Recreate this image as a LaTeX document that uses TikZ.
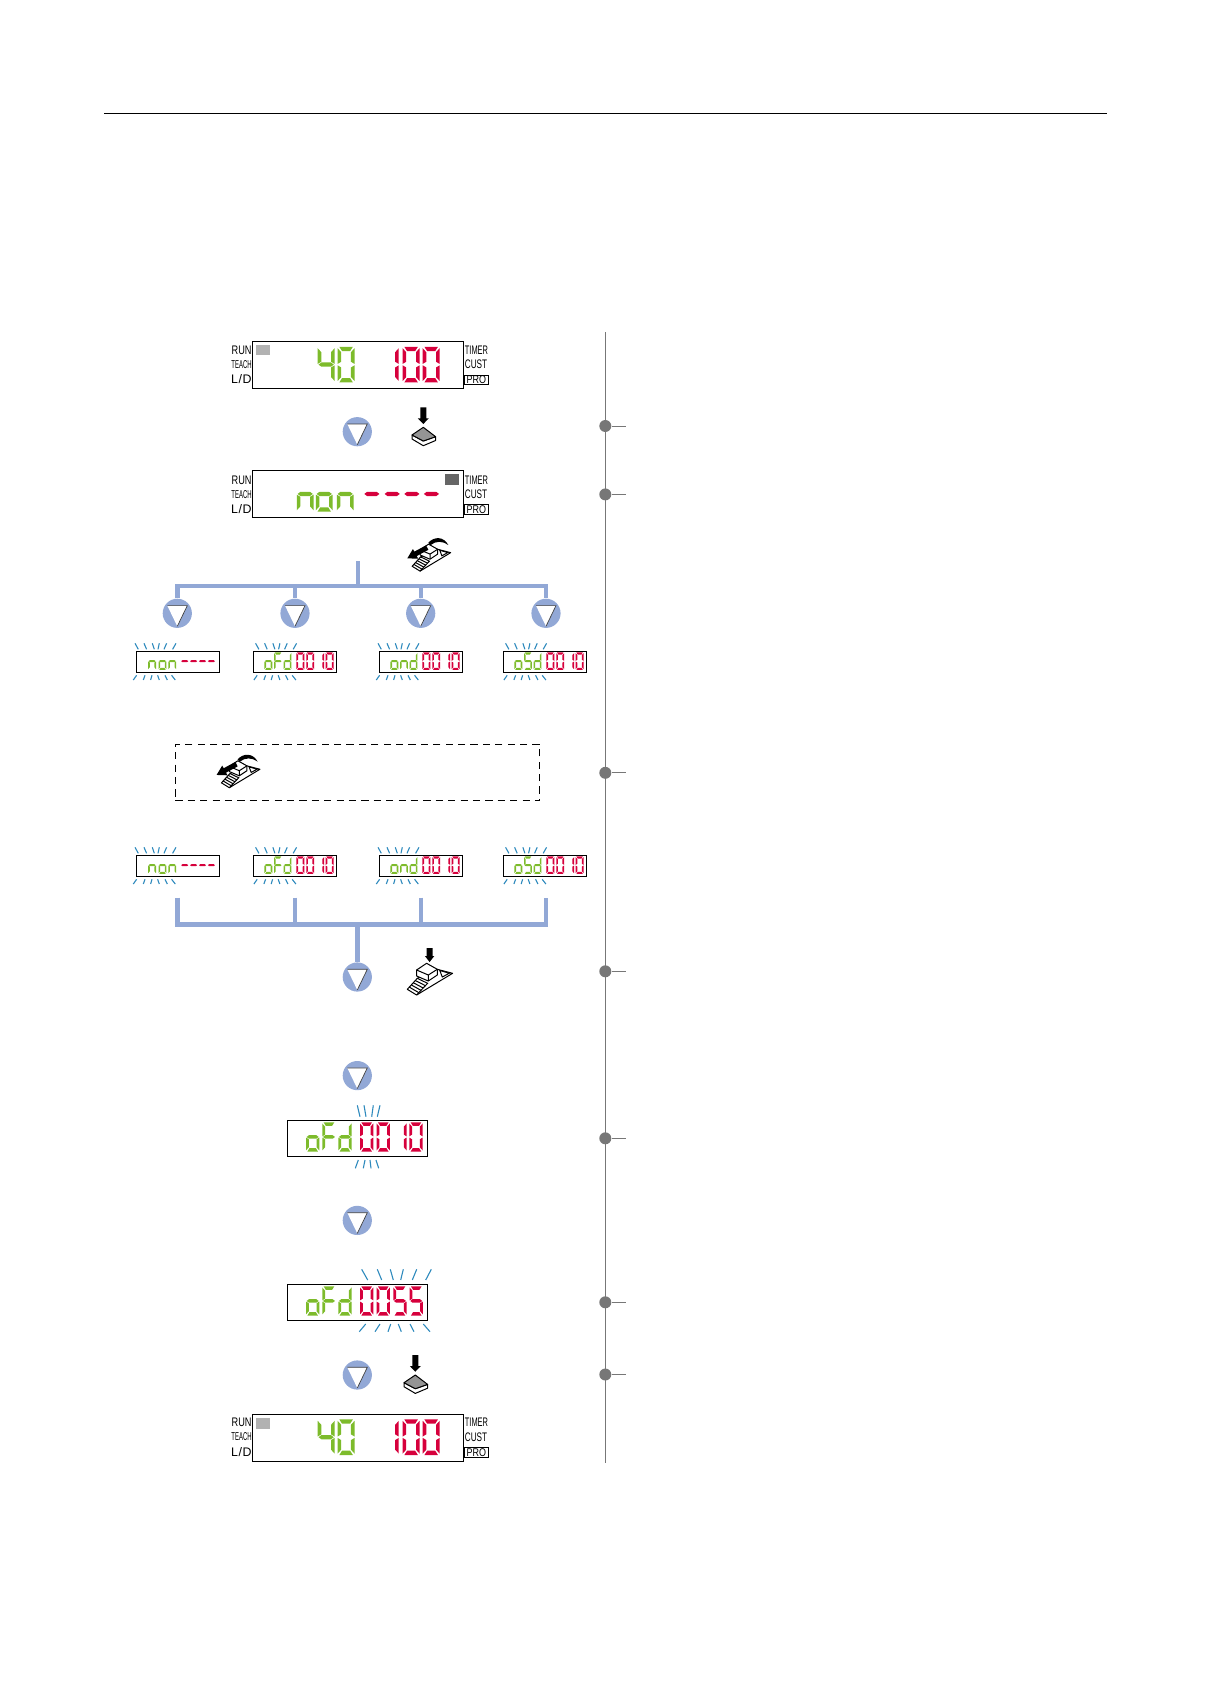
\documentclass[tikz,border=0pt]{standalone}
\usepackage{fontspec}
\setmainfont{Liberation Sans}
\usetikzlibrary{arrows.meta,calc,positioning}

\definecolor{ledgreen}{HTML}{7DBB2B}
\definecolor{ledred}{HTML}{D6003C}
\definecolor{flowblue}{HTML}{92A8D6}
\definecolor{rayblue}{HTML}{2E8ABD}
\definecolor{railgray}{HTML}{777777}

\tikzset{
  panelbox/.style={draw,line width=0.6pt,anchor=north west,inner sep=0pt,outer sep=0pt,minimum width=105.5pt,minimum height=23.4pt},
  readoutbig/.style={draw,line width=0.55pt,anchor=north west,inner sep=0pt,outer sep=0pt,minimum width=70pt,minimum height=18pt},
  readoutsmall/.style={draw,line width=0.5pt,anchor=north west,inner sep=0pt,outer sep=0pt,minimum width=41.5pt,minimum height=10.5pt},
  flowdot/.style={circle,fill=flowblue,inner sep=0pt,minimum size=14.6pt},
  bus/.style={flowblue,line width=2.2pt},
  ray/.style={rayblue,line width=0.55pt},
  railtick/.style={railgray,line width=0.5pt},
  raildot/.style={circle,fill=railgray,inner sep=0pt,minimum size=6pt},
  panellabel/.style={font=\fontsize{6.2}{6.5}\selectfont,inner sep=0pt},
  keypress/.pic={
    \fill (-3,-27.7) -- (3,-27.7) -- (3,-16.7) -- (5.5,-16.7) -- (0,-11) -- (-5.5,-16.7) -- (-3,-16.7) -- cycle;
    \draw[line width=0.5pt,fill=white,line join=round] (-11.3,0) -- (-11.3,4) -- (0,10.7) -- (12.3,5.5) -- (12.3,1.7) -- (0,6) -- cycle;
    \draw[line width=0.5pt,fill=black!42,line join=round] (-11.3,0) -- (0,-7.7) -- (12.3,1.7) -- (0,6) -- cycle;
  },
  levershape/.pic={
    \draw[line width=0.5pt,fill=white,line join=round] (-21,14.3) -- (-11,3.3) -- (9,-5.7) -- (24.3,-1.7) -- (-11.7,20) -- cycle;
    \foreach \rib in {0.2,0.4,0.6,0.8}
      \draw[line width=0.5pt] ($(-21,14.3)!\rib!(-11,3.3)$) -- ($(-11.7,20)!\rib!(-0.7,8.3)$);
    \draw[line width=0.5pt] (-11,3.3) -- (-0.7,8.3) -- (-11.7,20);
    \draw[line width=0.5pt,fill=white,line join=round] (-11.7,-5) -- (-1.7,-11.7) -- (9,-5.7) -- (9,0) -- (0,6) -- (-11.7,1) -- cycle;
    \draw[line width=0.5pt] (-11.7,-5) -- (0,0) -- (9,-5.7) (0,0) -- (0,6);
    \draw[line width=0.5pt] (11.5,-4.5) -- (21,-1.8) -- (14,2) -- cycle;
  },
  leverpress/.pic={
    \pic[transform shape] {levershape};
    \fill (-1.7,-27) -- (4.3,-27) -- (4.3,-19) -- (6,-19) -- (1.3,-13) -- (-3.4,-19) -- (-1.7,-19) -- cycle;
  },
  leverflick/.pic={
    \pic[transform shape] {levershape};
    \fill (-26.7,5) -- (-20.1,-6) -- (-18.4,-2.9) -- (-4.7,-10.3) -- (-1.9,-5.1) -- (-15.6,2.3) -- (-13.9,5.4) -- cycle;
    \fill (-2,-13.4) .. controls (5,-21) and (16,-21) .. (21.6,-10.7) .. controls (15,-15.5) and (7,-16) .. (0.5,-10.5) -- cycle;
  }
}

% Segments of one digit in a unit box
\newcommand{\sega}{(.10,0) -- (.90,0) -- (.74,.12) -- (.26,.12) -- cycle}
\newcommand{\segb}{(1,.04) -- (1,.48) -- (.79,.42) -- (.79,.15) -- cycle}
\newcommand{\segc}{(1,.52) -- (1,.96) -- (.79,.85) -- (.79,.58) -- cycle}
\newcommand{\segd}{(.10,1) -- (.90,1) -- (.74,.88) -- (.26,.88) -- cycle}
\newcommand{\sege}{(0,.52) -- (0,.96) -- (.21,.85) -- (.21,.58) -- cycle}
\newcommand{\segf}{(0,.04) -- (0,.48) -- (.21,.42) -- (.21,.15) -- cycle}
\newcommand{\segg}{(.05,.5) -- (.22,.44) -- (.78,.44) -- (.95,.5) -- (.78,.56) -- (.22,.56) -- cycle}

\newcommand{\glyphzero}{a,b,c,d,e,f}
\newcommand{\glyphone}{b,c}
\newcommand{\glyphfour}{b,c,f,g}
\newcommand{\glyphfive}{a,c,d,f,g}
\newcommand{\glyphdash}{g}
\newcommand{\lettero}{c,d,e,g}
\newcommand{\lettern}{c,e,g}
\newcommand{\letterF}{a,e,f,g}
\newcommand{\letterd}{b,c,d,e,g}

\newcommand{\segglyph}[4]{%
  \foreach \s in #4 {\fill[#3,shift={(#1,#2)},xscale=13.3,yscale=29.3] \csname seg\s\endcsname;}}

% Words and values inside a readout
\newcommand{\wordnon}{\segglyph{20}{2}{ledgreen}{\lettern}\segglyph{37.5}{2}{ledgreen}{\lettero}\segglyph{54}{2}{ledgreen}{\lettern}}
\newcommand{\wordofd}{\segglyph{18.7}{2}{ledgreen}{\lettero}\segglyph{35}{2}{ledgreen}{\letterF}\segglyph{51}{2}{ledgreen}{\letterd}}
\newcommand{\wordond}{\segglyph{18.7}{2}{ledgreen}{\lettero}\segglyph{35}{2}{ledgreen}{\lettern}\segglyph{51}{2}{ledgreen}{\letterd}}
\newcommand{\wordosd}{\segglyph{18.7}{2}{ledgreen}{\lettero}\segglyph{35}{2}{ledgreen}{\glyphfive}\segglyph{51}{2}{ledgreen}{\letterd}}
\newcommand{\showdash}{\segglyph{75}{2}{ledred}{\glyphdash}\segglyph{90}{2}{ledred}{\glyphdash}\segglyph{105}{2}{ledred}{\glyphdash}\segglyph{120}{2}{ledred}{\glyphdash}}
\newcommand{\showten}{\segglyph{72.7}{2}{ledred}{\glyphzero}\segglyph{89.3}{2}{ledred}{\glyphzero}\segglyph{106}{2}{ledred}{\glyphone}\segglyph{122}{2}{ledred}{\glyphzero}}
\newcommand{\showfiftyfive}{\segglyph{72.7}{2}{ledred}{\glyphzero}\segglyph{89.3}{2}{ledred}{\glyphzero}\segglyph{106}{2}{ledred}{\glyphfive}\segglyph{122.3}{2}{ledred}{\glyphfive}}
\newcommand{\showrun}{\segglyph{51.5}{4.2}{ledgreen}{\glyphfour}\segglyph{67.2}{4.2}{ledgreen}{\glyphzero}\segglyph{102}{4.2}{ledred}{\glyphone}\segglyph{118.4}{4.2}{ledred}{\glyphzero}\segglyph{134.2}{4.2}{ledred}{\glyphzero}}

\newcommand{\smallreadout}[5]{%
  \node[readoutsmall] (#1) at (#2,#3) {};
  \begin{scope}[shift={(#1.north west)},scale=0.593] #5 \end{scope}
  \begin{scope}[shift={(#1.north west)},xshift=#4]
    \foreach \xa/\xb in {-1.3/2,7.7/10.3,16/18,23/21.7,30.3/27.7,39.7/36.3}
      \draw[ray] (\xa,-8) -- (\xb,-2);
  \end{scope}
  \begin{scope}[shift={(#1.south west)},xshift=#4]
    \foreach \xa/\xb in {-3/0.3,7/8.7,14.3/15.7,23/21.3,31/28.7,39/35.3}
      \draw[ray] (\xa,7.7) -- (\xb,3);
  \end{scope}}

\newcommand{\panellabels}[2]{%
  \begin{scope}[shift={(#1.north west)}]
    \node[panellabel,anchor=east] (#1run) at (-0.3,8.3+#2) {\scalebox{.74}[1]{RUN}};
    \node[panellabel,anchor=east] (#1teach) at (-0.3,22.7+#2) {\scalebox{.48}[.92]{TEACH}};
    \node[panellabel,anchor=east] (#1ld) at (-0.3,37.7+#2) {\scalebox{1}[1]{L\kern.3pt/\kern.3ptD}};
  \end{scope}
  \begin{scope}[shift={(#1.north east)}]
    \node[panellabel,anchor=west] (#1timer) at (1.2,8.3+#2) {\scalebox{.6}[1]{TIMER}};
    \node[panellabel,anchor=west] (#1cust) at (1.2,22.7+#2) {\scalebox{.66}[1]{CUST}};
    \node[draw,line width=0.4pt,inner sep=0pt,minimum width=12.3pt,minimum height=4.7pt,font=\fontsize{5.6}{5.8}\selectfont] (#1pro) at (13,38+#2) {\scalebox{.8}[1]{PRO}};
  \end{scope}}

\newcommand{\flowmark}[3]{%
  \node[flowdot] (#1) at (#2,#3) {};
  \begin{scope}[shift={(#1)}]
    \fill[white] (-10,-7.7) -- (10,-7.7) -- (0,13) -- cycle;
    \draw[black!75,line width=0.35pt] (-10,-7.7) -- (10,-7.7) -- (0,13);
  \end{scope}}

\begin{document}
\begin{tikzpicture}[x=0.5pt,y=-0.5pt]
\useasboundingbox (0,0) rectangle (1230,1682);

% Header rule
\coordinate (rulea) at (104,113.7);
\coordinate (ruleb) at (1107,113.7);
\draw[line width=0.55pt] (rulea) -- (ruleb);

% Rail on the right
\coordinate (railtop) at (605.3,332);
\coordinate (railend) at (605.3,1462.7);
\draw[railgray,line width=0.5pt] (railtop) -- (railend);
\foreach \n/\yy in {a/426,b/494.4,c/772.8,d/971.3,e/1138.3,f/1302.3,g/1374.5} {
  \node[raildot] (dot\n) at (605.3,\yy) {};
  \coordinate (tick\n) at (625.7,\yy);
  \draw[railtick] (dot\n) -- (tick\n);
}

% Top panel
\node[panelbox] (panelrun) at (252.3,341.7) {};
\fill[black!30] (256,345.3) rectangle (270,354.7);
\begin{scope}[shift={(panelrun.north west)},xscale=1.27,yscale=1.215] \showrun \end{scope}
\panellabels{panelrun}{0}

\flowmark{markpress}{357.3}{431.7}
\pic at (423.3,435) {keypress};

% Second panel
\node[panelbox] (panelset) at (252.3,470.3) {};
\fill[black!60] (445,474.3) rectangle (459,485);
\begin{scope}[shift={(panelset.north west)},xscale=1.27,yscale=1.215]
  \segglyph{35}{4.8}{ledgreen}{\lettern}\segglyph{50}{4.8}{ledgreen}{\lettero}\segglyph{66.5}{4.8}{ledgreen}{\lettern}
  \segglyph{87.5}{4.8}{ledred}{\glyphdash}\segglyph{103.5}{4.8}{ledred}{\glyphdash}\segglyph{119}{4.8}{ledred}{\glyphdash}\segglyph{134.4}{4.8}{ledred}{\glyphdash}
\end{scope}
\panellabels{panelset}{1.2}

\pic[scale=.85] at (430,554.1) {leverflick};

% Upper branch
\flowmark{marknon}{177.3}{613.3}
\flowmark{markofd}{295}{613.3}
\flowmark{markond}{420.7}{613.3}
\flowmark{markosd}{546}{613.3}
\coordinate (busin) at (358,561);
\coordinate (busjoin) at (358,586);
\draw[bus] (busin) -- (busjoin);
\draw[bus] (marknon.north) |- (busjoin) -| (markosd.north);
\draw[bus] (markofd.north) -- (markofd.north |- busjoin);
\draw[bus] (markond.north) -- (markond.north |- busjoin);

% Upper readouts
\smallreadout{readnon}{136.3}{651.3}{0pt}{\wordnon\showdash}
\smallreadout{readofd}{253.3}{651.3}{1.8pt}{\wordofd\showten}
\smallreadout{readond}{379.3}{651.3}{0pt}{\wordond\showten}
\smallreadout{readosd}{503.3}{651.3}{1.8pt}{\wordosd\showten}

% Dashed box
\node[draw,dashed,dash pattern=on 3.6pt off 2.6pt,line width=0.5pt,anchor=north west,minimum width=182.3pt,minimum height=28.3pt,inner sep=0pt,outer sep=0pt] (flickbox) at (175.3,744.3) {};
\pic[scale=.85] at (239.3,770.7) {leverflick};

% Lower readouts
\smallreadout{lownon}{136.3}{855.3}{0pt}{\wordnon\showdash}
\smallreadout{lowofd}{253.3}{855.3}{1.8pt}{\wordofd\showten}
\smallreadout{lowond}{379.3}{855.3}{0pt}{\wordond\showten}
\smallreadout{lowosd}{503.3}{855.3}{1.8pt}{\wordosd\showten}

% Lower branch
\flowmark{markout}{357.3}{977}
\coordinate (stubnon) at (177.3,897.6);
\coordinate (stubofd) at (295,897.6);
\coordinate (stubond) at (420.7,897.6);
\coordinate (stubosd) at (546,897.6);
\coordinate (busout) at (357.3,924.4);
\draw[bus] (stubnon) |- (busout) -| (stubosd);
\draw[bus] (stubofd) -- (stubofd |- busout);
\draw[bus] (stubond) -- (stubond |- busout);
\draw[bus] (busout) -- (markout.north);
\pic at (428.3,975) {leverpress};

\flowmark{markfirst}{357.3}{1075.6}

% Value readout
\node[readoutbig] (valueten) at (287.3,1120.3) {};
\begin{scope}[shift={(valueten.north west)}] \wordofd\showten \end{scope}
\foreach \xa/\xb in {357.3/360,364/366,373.3/371.7,380/377.3}
  \draw[ray] (\xa,1105.3) -- (\xb,1116.7);
\foreach \xa/\xb in {355.3/358.3,363.3/365,371/370,378.7/376}
  \draw[ray] (\xa,1168.3) -- (\xb,1160);

\flowmark{marksecond}{357.3}{1220.4}

% Changed value readout
\node[readoutbig] (valuenew) at (287.3,1284.3) {};
\begin{scope}[shift={(valuenew.north west)}] \wordofd\showfiftyfive \end{scope}
\foreach \xa/\xb in {361.7/367.7,377.3/381.7,390.3/393.3,403.3/400.7,416.7/412.3,431.3/425.7}
  \draw[ray] (\xa,1269.3) -- (\xb,1280);
\foreach \xa/\xb in {359.3/365.7,375/380,388/390.7,401.3/398.3,414/410,430/423.3}
  \draw[ray] (\xa,1331.7) -- (\xb,1324);

\flowmark{markthird}{357.3}{1375}
\pic at (415.3,1382.7) {keypress};

% Bottom panel
\node[panelbox] (panelend) at (252.3,1414.3) {};
\fill[black!30] (256,1418) rectangle (270,1429);
\begin{scope}[shift={(panelend.north west)},xscale=1.27,yscale=1.215] \showrun \end{scope}
\panellabels{panelend}{0}

\end{tikzpicture}
\end{document}
